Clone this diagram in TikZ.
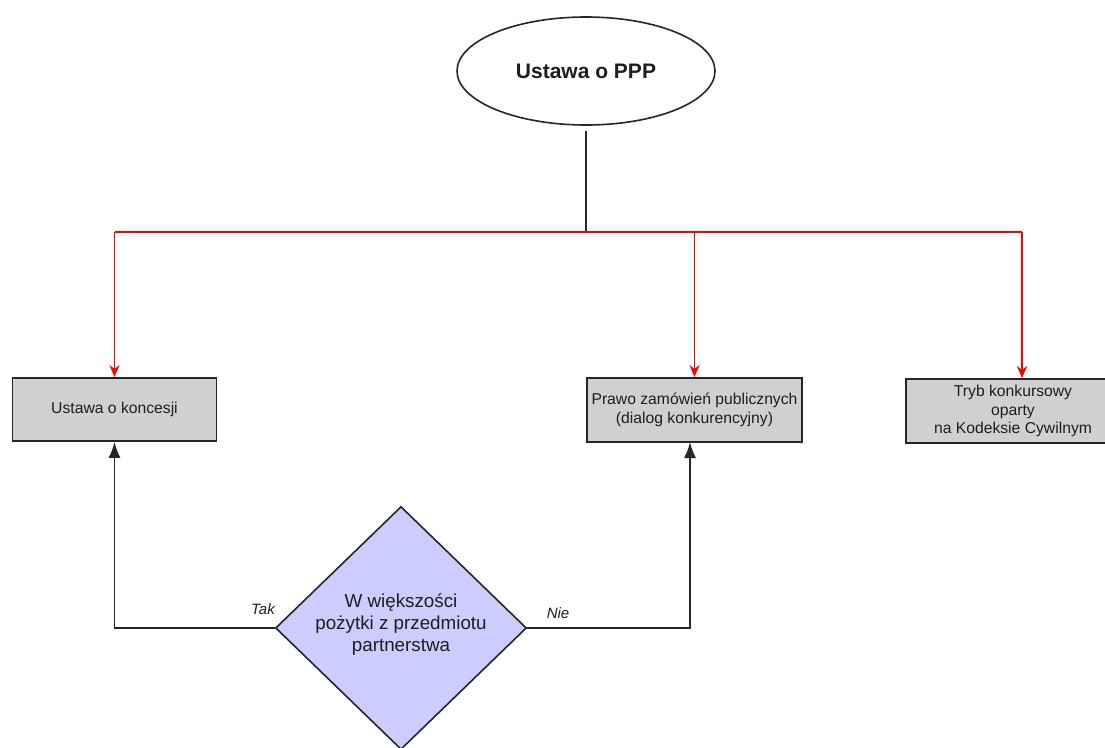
\documentclass[tikz,border=0pt]{standalone}
\usepackage{fontspec}
\setmainfont{Liberation Sans}
\usetikzlibrary{shapes.geometric,arrows.meta}
\definecolor{boxgray}{RGB}{208,208,208}
\definecolor{diafill}{RGB}{204,204,255}
\definecolor{txt}{RGB}{30,30,30}
\begin{document}
\begin{tikzpicture}[x=1pt,y=-1pt,
  boxnode/.style={draw=black!85, line width=1.8pt, fill=boxgray, rectangle, inner sep=0pt,
    align=center, text=txt, font=\fontsize{15.7}{18.5}\selectfont},
  redarrow/.style={draw=red, line width=1.8pt, -{Stealth[length=12pt,width=10pt]}},
  redline/.style={draw=red, line width=1.8pt},
  blackarrow/.style={draw=black!85, line width=1.7pt, -{Latex[length=16pt,width=12pt]}},
  lbl/.style={font=\fontsize{15}{18}\selectfont\itshape, text=txt, inner sep=0pt}]
\useasboundingbox (0,0) rectangle (1105,747);
\clip (0,0) rectangle (1105,747);
\fill[white] (0,0) rectangle (1105,747);

\node[ellipse, draw=black!85, line width=1.6pt, fill=white, minimum width=258pt, minimum height=108pt,
  inner sep=0pt, font=\fontsize{21}{25}\selectfont\bfseries, text=txt] (ppp) at (586,71) {Ustawa o PPP};

\node[boxnode, minimum width=204pt, minimum height=63pt] (kon) at (114.5,409.5) {Ustawa o koncesji};
\node[boxnode, minimum width=215pt, minimum height=64pt] (pzp) at (694.5,410) {Prawo zamówień publicznych\\(dialog konkurencyjny)};
\node[boxnode, minimum width=214pt, minimum height=64pt] (tryb) at (1013,411) {Tryb konkursowy\\oparty\\na Kodeksie Cywilnym};

\node[diamond, draw=black!85, line width=1.6pt, fill=diafill, minimum width=251pt, minimum height=243pt,
  inner sep=-30pt, align=center, text=txt, font=\fontsize{18.8}{22}\selectfont] (dec) at (401,628)
  {W większości\\pożytki z przedmiotu\\partnerstwa\\[-12pt]};

\coordinate (split) at (586,232);
\coordinate (rl) at (114.5,232);
\coordinate (rr) at (1022,232);
\draw[draw=black!85, line width=1.6pt] ([yshift=-5pt]ppp.south) -- (split);
\draw[redline] (rl) -- (rr);
\draw[redarrow] (rl) -- (kon.north);
\draw[redarrow] (694.5,232) -- (pzp.north);
\draw[redarrow] (rr) -- (rr |- tryb.north);

\draw[blackarrow] (dec.west) -- (114.5,628) -- (kon.south);
\draw[blackarrow] (dec.east) -- (690,628) -- (690,442);

\node[lbl] (tak) at (263,609) {Tak};
\node[lbl] (nie) at (558,613) {Nie};
\end{tikzpicture}
\end{document}
